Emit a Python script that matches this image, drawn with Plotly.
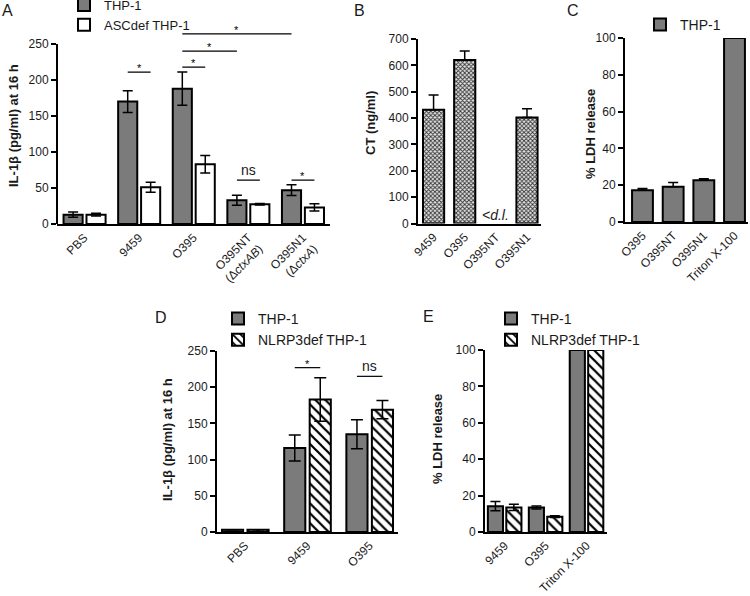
import plotly.graph_objects as go

FONT = "Liberation Sans, Arial, sans-serif"
GRAY = "#7b7b7b"
INK = "#1a1a1a"

# ---------------- data ----------------
# Panel A
a_cats = ["PBS", "9459", "O395", "O395NT<br>(Δ<i>ctxAB</i>)", "O395N1<br>(Δ<i>ctxA</i>)"]
a_thp = [13, 170, 188, 33, 47]
a_thp_err = [3.5, 15, 23, 7, 7.5]
a_asc = [13, 51, 83, 27.5, 23]
a_asc_err = [2, 7, 12, 1, 5]
a_ticks = [0, 50, 100, 150, 200, 250]
# (category from, series from, category to, series to, y, label)
a_sig = [
    (1, 0, 1, 1, 211, "*"),
    (2, 0, 2, 1, 218, "*"),
    (2, 0, 3, 0, 240, "*"),
    (2, 0, 4, 0, 264, "*"),
    (3, 0, 3, 1, 61, "ns"),
    (4, 0, 4, 1, 61, "*"),
]

# Panel B
b_cats = ["9459", "O395", "O395NT", "O395N1"]
b_ct = [432, 620, None, 402]
b_ct_err = [56, 34, 0, 33]
b_ticks = [0, 100, 200, 300, 400, 500, 600, 700]
b_dl_cat = 2
b_dl_y = 32

# Panel C
c_cats = ["O395", "O395NT", "O395N1", "Triton X-100"]
c_ldh = [17.3, 19.2, 22.7, 100]
c_ldh_err = [0.9, 2.2, 0.8, 0]
c_ticks = [0, 20, 40, 60, 80, 100]

# Panel D
d_cats = ["PBS", "9459", "O395"]
d_thp = [3, 116, 135]
d_thp_err = [0, 18, 20]
d_nlrp = [3, 183, 169]
d_nlrp_err = [0, 30, 12.5]
d_ticks = [0, 50, 100, 150, 200, 250]
d_sig = [
    (1, 0, 1, 1, 227, "*"),
    (2, 0, 2, 1, 215, "ns"),
]

# Panel E
e_cats = ["9459", "O395", "Triton X-100"]
e_thp = [14.2, 13.5, 100]
e_thp_err = [2.5, 0.8, 0]
e_nlrp = [13.5, 8.4, 100]
e_nlrp_err = [1.7, 0.5, 0]
e_ticks = [0, 20, 40, 60, 80, 100]

# ---------------- style ----------------
W, H = 750, 596
fig = go.Figure()

line_blk = dict(color="black", width=2)
stripe = dict(shape="\\", size=7, solidity=0.32, fgcolor="black", bgcolor="white", fillmode="replace")
dots = dict(shape="x", size=3, solidity=0.5, fgcolor="#333333", bgcolor="#e6e6e6", fillmode="replace")


def err(arr, up_only=False, width=5):
    d = dict(type="data", array=arr, color="black", thickness=1.5, width=width, visible=True)
    if up_only:
        d["symmetric"] = False
        d["arrayminus"] = [0] * len(arr)
    return d


def bars(name, cats, vals, errs, xa, ya, offset, width, legend=None, showlegend=True,
         color=GRAY, pattern=None, up_only=False, ew=5):
    m = dict(color=color, line=line_blk)
    if pattern:
        m["pattern"] = pattern
    fig.add_trace(go.Bar(
        name=name, x=list(range(len(cats))), y=vals, offset=offset, width=width,
        marker=m, error_y=err(errs, up_only, ew), xaxis=xa, yaxis=ya,
        legend=legend, showlegend=showlegend, cliponaxis=False,
    ))


# Panel A
A_OFF = [(-0.38, 0.35), (0.04, 0.35)]
bars("THP-1", a_cats, a_thp, a_thp_err, "x", "y", *A_OFF[0], legend="legend")
bars("ASCdef THP-1", a_cats, a_asc, a_asc_err, "x", "y", *A_OFF[1], legend="legend", color="white")
# Panel B
bars("CT", b_cats, b_ct, b_ct_err, "x2", "y2", -0.34, 0.68, showlegend=False,
     color="#d0d0d0", pattern=dots, up_only=True)
# Panel C
bars("THP-1", c_cats, c_ldh, c_ldh_err, "x3", "y3", -0.34, 0.68, legend="legend2", up_only=True)
# Panel D
D_OFF = [(-0.37, 0.34), (0.04, 0.34)]
bars("THP-1", d_cats, d_thp, d_thp_err, "x4", "y4", *D_OFF[0], legend="legend3", ew=6)
bars("NLRP3def THP-1", d_cats, d_nlrp, d_nlrp_err, "x4", "y4", *D_OFF[1], legend="legend3",
     color="white", pattern=stripe, ew=6)
# Panel E
E_OFF = [(-0.41, 0.37), (0.04, 0.37)]
bars("THP-1", e_cats, e_thp, e_thp_err, "x5", "y5", *E_OFF[0], legend="legend4")
bars("NLRP3def THP-1", e_cats, e_nlrp, e_nlrp_err, "x5", "y5", *E_OFF[1], legend="legend4",
     color="white", pattern=stripe)

tickfont = dict(family=FONT, size=12, color=INK)


def xaxis(dom, cats, rng):
    return dict(domain=dom, range=rng, tickvals=list(range(len(cats))), ticktext=cats,
                tickangle=-45, showline=True, linewidth=2, linecolor="black", ticks="",
                showgrid=False, zeroline=False, tickfont=tickfont, fixedrange=True,
                automargin=False)


def yaxis(dom, ticks, rng, showline=True):
    return dict(domain=dom, range=rng, tickvals=ticks, showline=showline, linewidth=2,
                linecolor="black", ticks="outside", ticklen=5, tickwidth=2, tickcolor="black",
                showgrid=False, zeroline=False, tickfont=tickfont, fixedrange=True,
                automargin=False)


def py(px):
    return 1 - px / H


fig.update_layout(
    template="none",
    width=W, height=H, autosize=False,
    margin=dict(l=0, r=0, t=0, b=0, pad=0, autoexpand=False),
    paper_bgcolor="white", plot_bgcolor="rgba(0,0,0,0)",
    barmode="overlay",
    font=dict(family=FONT, color=INK),
    xaxis=dict(xaxis([57 / W, 330 / W], a_cats, [-0.5, 4.5]), anchor="y"),
    yaxis=dict(yaxis([py(224), py(224 - 270 * 0.72)], a_ticks, [0, 270], showline=False), anchor="x"),
    xaxis2=dict(xaxis([418 / W, 541 / W], b_cats, [-0.5, 3.45]), anchor="y2"),
    yaxis2=dict(yaxis([py(223.5), py(39)], b_ticks, [0, 700]), anchor="x2"),
    xaxis3=dict(xaxis([625 / W, 748 / W], c_cats, [-0.57, 3.44]), anchor="y3"),
    yaxis3=dict(yaxis([py(222), py(38)], c_ticks, [0, 100]), anchor="x3"),
    xaxis4=dict(xaxis([217 / W, 398 / W], d_cats, [-0.45, 2.46]), anchor="y4"),
    yaxis4=dict(yaxis([py(532), py(351)], d_ticks, [0, 250]), anchor="x4"),
    xaxis5=dict(xaxis([485 / W, 607 / W], e_cats, [-0.48, 2.5]), anchor="y5"),
    yaxis5=dict(yaxis([py(532), py(350)], e_ticks, [0, 100]), anchor="x5"),
)

leg = dict(xanchor="left", yanchor="top", bgcolor="rgba(0,0,0,0)", borderwidth=0,
           font=dict(family=FONT, size=14, color=INK), tracegroupgap=0, traceorder="normal")
fig.update_layout(
    legend=dict(leg, x=64 / W, y=py(-10), font=dict(family=FONT, size=13, color=INK)),
    legend2=dict(leg, x=640 / W, y=py(9)),
    legend3=dict(leg, x=218 / W, y=py(303)),
    legend4=dict(leg, x=491 / W, y=py(303)),
)

# panel A y-axis line up to the top tick
fig.add_shape(type="line", xref="x domain", yref="y", x0=0, x1=0, y0=a_ticks[0], y1=a_ticks[-1],
              line=dict(color="black", width=2))


def sig(lst, offs, xa, ya):
    for c0, s0, c1, s1, yv, lab in lst:
        x0 = c0 + offs[s0][0] + offs[s0][1] / 2
        x1 = c1 + offs[s1][0] + offs[s1][1] / 2
        fig.add_shape(type="line", xref=xa, yref=ya, x0=x0, x1=x1, y0=yv, y1=yv,
                      line=dict(color="black", width=1.2))
        if lab == "*":
            fig.add_annotation(x=(x0 + x1) / 2, y=yv, xref=xa, yref=ya, text="*", showarrow=False,
                               yanchor="bottom", yshift=-4, font=dict(size=11, color="black"))
        else:
            fig.add_annotation(x=(x0 + x1) / 2, y=yv, xref=xa, yref=ya, text=lab, showarrow=False,
                               yanchor="bottom", yshift=0, font=dict(size=14, color=INK))


sig(a_sig, A_OFF, "x", "y")
sig(d_sig, D_OFF, "x4", "y4")

# below detection limit label
fig.add_annotation(x=b_dl_cat, y=b_dl_y, xref="x2", yref="y2", text="<i>&lt;d.l.</i>",
                   showarrow=False, font=dict(size=14, color=INK))

# panel letters
for lab, x, y in [("A", 7, 10), ("B", 359, 10), ("C", 573, 10), ("D", 161, 318), ("E", 429, 316)]:
    fig.add_annotation(x=x / W, y=py(y), xref="paper", yref="paper", text=lab, showarrow=False,
                       xanchor="center", yanchor="middle", font=dict(size=16, color=INK))

# y titles
for txt, x, y in [("IL-1β (pg/ml) at 16 h", 14, 126), ("CT (ng/ml)", 370, 123),
                  ("% LDH release", 590, 134), ("IL-1β (pg/ml) at 16 h", 167, 440),
                  ("% LDH release", 437, 439)]:
    fig.add_annotation(x=x / W, y=py(y), xref="paper", yref="paper", text="<b>%s</b>" % txt,
                       textangle=-90, showarrow=False, xanchor="center", yanchor="middle",
                       font=dict(size=13, color=INK))

fig.write_html("out.html", config={"displayModeBar": False},
               post_script="document.body.style.margin='0';")
